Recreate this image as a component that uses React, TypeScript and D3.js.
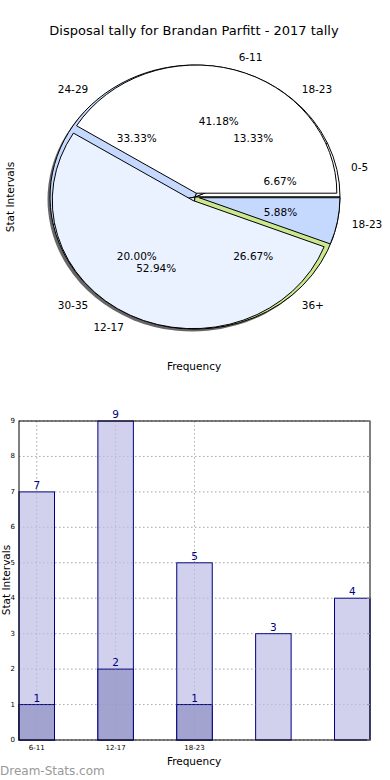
import React from "react";
import { pie, arc, scaleLinear } from "d3";

// pie A (drawn on top)
const outerLabels = ["6-11", "12-17", "18-23"];
const outerValues = [7, 9, 1];
const outerColors = ["#ffffff", "#ebf2ff", "#c5d9ff"];

// pie B (drawn below)
const innerLabels = ["0-5", "18-23", "24-29", "30-35", "36+"];
const innerValues = [1, 2, 5, 3, 4];
const innerColors = ["#ffffff", "#ebf2ff", "#c5d9ff", "#dde8ff", "#cce88f"];

// bars
const barCats = ["6-11", "12-17", "18-23", "", ""];
const backValues = [7, 9, 5, 3, 4];
const frontValues = [1, 2, 1];
const yTicks = [0, 1, 2, 3, 4, 5, 6, 7, 8, 9];

const font = "DejaVu Sans, sans-serif";

const cx = 195;
const cy = 197;
const rx = 145;
const ry = 132;

const makeSlices = (values: number[]) =>
  pie<number>()
    .sort(null)
    .startAngle(Math.PI / 2)
    .endAngle(Math.PI / 2 - 2 * Math.PI)(values);

const PieLayer = ({ values, colors, radius, explode, shadow }) => {
  const slices = makeSlices(values);
  const path = arc<any>().innerRadius(0).outerRadius(radius);
  return (
    <g>
      {slices.map((s, i) => {
        const mid = (s.startAngle + s.endAngle) / 2;
        const ox = Math.sin(mid) * explode * rx;
        const oy = -Math.cos(mid) * explode * ry;
        return (
          <g key={i} transform={`translate(${cx + ox + (shadow ? -2.5 : 0)},${cy + oy + (shadow ? 2.5 : 0)}) scale(${rx},${ry})`}>
            <path
              d={path(s) as string}
              fill={shadow ? "#000" : colors[i]}
              fillOpacity={shadow ? 0.6 : 1}
              stroke={shadow ? "none" : "#000"}
              strokeWidth={1}
              vectorEffect="non-scaling-stroke"
            />
          </g>
        );
      })}
    </g>
  );
};

const PieText = ({ values, labels }) => {
  const slices = makeSlices(values);
  const total = values.reduce((a, b) => a + b, 0);
  return (
    <g fontFamily={font} fontSize={10.5} fill="#000">
      {slices.map((s, i) => {
        const mid = (s.startAngle + s.endAngle) / 2;
        const ux = Math.sin(mid);
        const uy = -Math.cos(mid);
        const lx = cx + 1.1 * rx * ux;
        const ly = cy + 1.1 * ry * uy;
        const px = cx + 0.6 * rx * ux;
        const py = cy + 0.6 * ry * uy;
        return (
          <g key={i}>
            <text x={lx} y={ly} textAnchor={ux >= 0 ? "start" : "end"} dominantBaseline="central">
              {labels[i]}
            </text>
            <text x={px} y={py} textAnchor="middle" dominantBaseline="central">
              {((values[i] / total) * 100).toFixed(2) + "%"}
            </text>
          </g>
        );
      })}
    </g>
  );
};

const BarChart = () => {
  const left = 19;
  const right = 370;
  const top = 421;
  const bottom = 740;
  const bw = 0.45;

  const x = scaleLinear().domain([0, 4 + bw]).range([left, right]);
  const y = scaleLinear().domain([0, 9]).range([bottom, top]);

  const xTickPos = [0, 1, 2];

  return (
    <g fontFamily={font}>
      {/* grid */}
      {yTicks.map((t) => (
        <line key={"gy" + t} x1={left} x2={right} y1={y(t)} y2={y(t)} stroke="#bbb" strokeDasharray="1.5,2.5" />
      ))}
      {xTickPos.map((i) => (
        <line key={"gx" + i} x1={x(i + bw / 2)} x2={x(i + bw / 2)} y1={top} y2={bottom} stroke="#bbb" strokeDasharray="1.5,2.5" />
      ))}
      {backValues.map((v, i) => (
        <rect
          key={"b" + i}
          x={x(i)}
          y={y(v)}
          width={x(i + bw) - x(i)}
          height={y(0) - y(v)}
          fill="#ccccec"
          fillOpacity={0.9}
          stroke="#000080"
          strokeWidth={1}
        />
      ))}
      {frontValues.map((v, i) => (
        <rect
          key={"f" + i}
          x={x(i)}
          y={y(v)}
          width={x(i + bw) - x(i)}
          height={y(0) - y(v)}
          fill="#a3a3cf"
          stroke="#000080"
          strokeWidth={1}
        />
      ))}
      {/* grid showing through bars */}
      {yTicks.map((t) => (
        <line key={"gy2" + t} x1={left} x2={right} y1={y(t)} y2={y(t)} stroke="#999" strokeOpacity={0.35} strokeDasharray="1.5,2.5" />
      ))}
      {xTickPos.map((i) => (
        <line key={"gx2" + i} x1={x(i + bw / 2)} x2={x(i + bw / 2)} y1={top} y2={bottom} stroke="#999" strokeOpacity={0.35} strokeDasharray="1.5,2.5" />
      ))}
      {backValues.map((v, i) => (
        <text key={"bt" + i} x={x(i + bw / 2)} y={y(v) - 3} textAnchor="middle" fontSize={10.5} fill="#000080">
          {v}
        </text>
      ))}
      {frontValues.map((v, i) => (
        <text key={"ft" + i} x={x(i + bw / 2)} y={y(v) - 3} textAnchor="middle" fontSize={10.5} fill="#000080">
          {v}
        </text>
      ))}
      <rect x={left} y={top} width={right - left} height={bottom - top} fill="none" stroke="#000" strokeWidth={1} />
      {yTicks.map((t) => (
        <g key={"yt" + t}>
          <line x1={right - 3} x2={right} y1={y(t)} y2={y(t)} stroke="#999" />
          <text x={left - 4} y={y(t)} textAnchor="end" dominantBaseline="central" fontSize={7} fill="#000">
            {t}
          </text>
        </g>
      ))}
      {xTickPos.map((i) => (
        <text key={"xt" + i} x={x(i + bw / 2)} y={bottom + 8} textAnchor="middle" dominantBaseline="central" fontSize={7} fill="#000">
          {barCats[i]}
        </text>
      ))}
      <text x={194} y={761} textAnchor="middle" dominantBaseline="central" fontSize={10.5}>
        Frequency
      </text>
      <text transform={`translate(6,580) rotate(-90)`} textAnchor="middle" dominantBaseline="central" fontSize={10.5}>
        Stat Intervals
      </text>
      <text x={0} y={771} dominantBaseline="central" fontSize={12} fill="#999">
        Dream-Stats.com
      </text>
    </g>
  );
};

const App = () => {
  return (
    <svg width={390} height={780} style={{ position: "absolute", left: 0, top: 0, background: "#fff" }}>
      <rect width={390} height={780} fill="#fff" />
      <text x={194} y={30} textAnchor="middle" dominantBaseline="central" fontFamily={font} fontSize={13}>
        Disposal tally for Brandan Parfitt - 2017 tally
      </text>
      <PieLayer values={innerValues} colors={innerColors} radius={1} explode={0} shadow={true} />
      <PieLayer values={innerValues} colors={innerColors} radius={1} explode={0} shadow={false} />
      <PieLayer values={outerValues} colors={outerColors} radius={0.97} explode={0.03} shadow={false} />
      <PieText values={innerValues} labels={innerLabels} />
      <PieText values={outerValues} labels={outerLabels} />
      <text x={194} y={366} textAnchor="middle" dominantBaseline="central" fontFamily={font} fontSize={10.5}>
        Frequency
      </text>
      <text transform="translate(10,197) rotate(-90)" textAnchor="middle" dominantBaseline="central" fontFamily={font} fontSize={10.5}>
        Stat Intervals
      </text>
      <BarChart />
    </svg>
  );
};

export default App;
